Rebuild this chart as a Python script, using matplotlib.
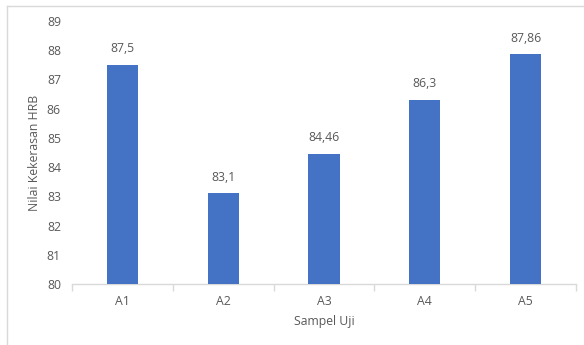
import numpy as np
import matplotlib.pyplot as plt
from matplotlib.lines import Line2D

samples = ['A1', 'A2', 'A3', 'A4', 'A5']
hardness = [87.5, 83.1, 84.46, 86.3, 87.86]
value_labels = ['87,5', '83,1', '84,46', '86,3', '87,86']

plt.rcParams['font.family'] = ['Open Sans', 'DejaVu Sans']
text_color = '#595959'
line_color = '#D9D9D9'

fig = plt.figure(figsize=(5.84, 3.45), dpi=100)
ax = fig.add_axes([72 / 584, 1 - 284 / 345, 504 / 584, 263 / 345])

x = np.arange(len(samples))
bars = ax.bar(x, hardness, width=0.31, color='#4472C4', zorder=3)

# value labels above each bar
for b, lab in zip(bars, value_labels):
    ax.annotate(lab, (b.get_x() + b.get_width() / 2, b.get_height()),
                xytext=(0, 7), textcoords='offset points',
                ha='center', va='bottom', fontsize=8.8, color=text_color)

ax.set_ylim(80, 89)
ax.set_xlim(-0.5, len(samples) - 0.5)
ax.set_yticks(range(80, 90))
ax.set_xticks(x)
ax.set_xticklabels(samples)
ax.set_xticks(np.arange(-0.5, len(samples)), minor=True)

ax.tick_params(axis='y', length=0, labelsize=8.8, labelcolor=text_color, pad=8)
ax.tick_params(axis='x', which='major', length=0, labelsize=8.8,
               labelcolor=text_color, pad=8)
ax.tick_params(axis='x', which='minor', length=5, color=line_color, width=1)

for side in ['top', 'right', 'left']:
    ax.spines[side].set_visible(False)
ax.spines['bottom'].set_color(line_color)
ax.spines['bottom'].set_linewidth(1)

ax.set_ylabel('Nilai Kekerasan HRB', fontsize=8.8, color=text_color, labelpad=4)
ax.set_xlabel('Sampel Uji', fontsize=8.8, color=text_color, labelpad=5)

# chart area frame (top and left edges)
fig.add_artist(Line2D([7 / 584, 1], [1 - 6 / 345, 1 - 6 / 345],
                      transform=fig.transFigure, color=line_color, lw=1))
fig.add_artist(Line2D([7 / 584, 7 / 584], [0, 1 - 6 / 345],
                      transform=fig.transFigure, color=line_color, lw=1))

fig.savefig('out.png', dpi=100)
